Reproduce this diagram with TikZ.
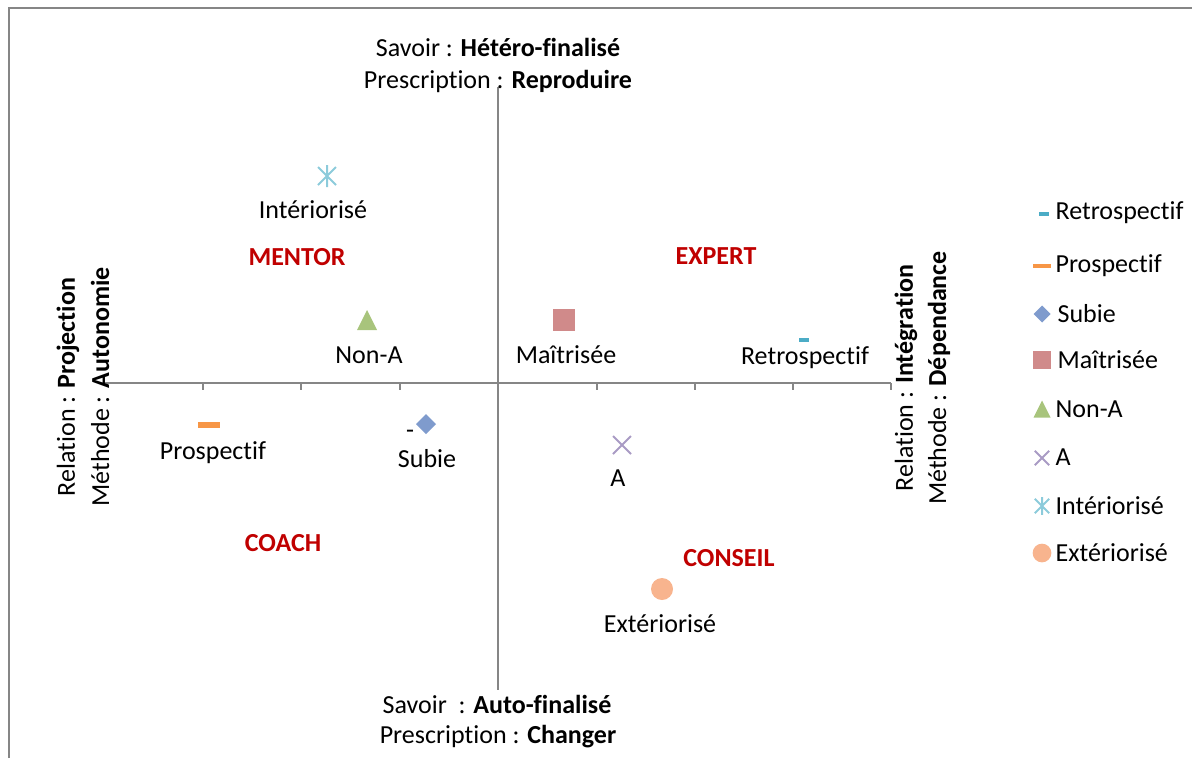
\documentclass[tikz,border=0pt]{standalone}
\usepackage{fontspec}
\setmainfont[Ligatures=NoCommon]{Carlito}
\definecolor{axisgray}{HTML}{868686}
\definecolor{cRetro}{HTML}{4BACC6}
\definecolor{cPros}{HTML}{F79646}
\definecolor{cSubie}{HTML}{7F9BCD}
\definecolor{cMait}{HTML}{D08A8A}
\definecolor{cNonA}{HTML}{A8C47C}
\definecolor{cA}{HTML}{A99BC4}
\definecolor{cInt}{HTML}{8CCBDB}
\definecolor{cExt}{HTML}{F8B48E}
\definecolor{quadred}{HTML}{C00000}
\tikzset{
  lbl/.style={font=\fontsize{19.5}{23}\selectfont, text=black, inner sep=1pt},
  quad/.style={font=\fontsize{19.5}{23}\selectfont\bfseries, text=quadred, inner sep=1pt},
  axis/.style={draw=axisgray, line width=1.5pt},
  tickmark/.style={draw=axisgray, line width=1.5pt},
  frameline/.style={draw=axisgray, line width=2.2pt},
  pics/retro/.style={code={\fill[cRetro] (-5,-2) rectangle (5,2);}},
  pics/pros/.style={code={\fill[cPros] (-11,-3) rectangle (11,3);}},
  pics/subie/.style={code={\fill[cSubie] (-10,0) -- (0,-10) -- (10,0) -- (0,10) -- cycle;}},
  pics/mait/.style={code={\fill[cMait] (-11,-11) rectangle (11,11);}},
  pics/nona/.style={code={\fill[cNonA] (-10,10) -- (0,-10) -- (10,10) -- cycle;}},
  pics/across/.style={code={\draw[cA, line width=1.5pt] (-9,-9) -- (9,9) (-9,9) -- (9,-9);}},
  pics/aster/.style={code={\draw[cInt, line width=1.5pt] (-9,-9) -- (9,9) (-9,9) -- (9,-9) (0,-11) -- (0,11);}},
  pics/exter/.style={code={\fill[cExt] (0,0) circle (11);}},
}
\begin{document}
\begin{tikzpicture}[x=0.75pt,y=-0.75pt]
\useasboundingbox (0,0) rectangle (1192,758);
% frame
\coordinate (fbl) at (9,758);
\coordinate (ftl) at (9,8);
\coordinate (ftr) at (1192,8);
\draw[frameline] (fbl) -- (ftl) -- (ftr);
% axes
\coordinate (xl) at (105,383);
\coordinate (xr) at (891,383);
\coordinate (yt) at (498,87);
\coordinate (yb) at (498,690);
\draw[axis] (xl) -- (xr);
\draw[axis] (yt) -- (yb);
\foreach \i in {203,301,400,597,695,793,891} {
  \coordinate (t\i) at (\i,383);
  \draw[tickmark] (t\i) -- ++(0,7);
}
% axis titles
\node[lbl] (top1) at (498,47) {Savoir : \textbf{Hétéro-finalisé}};
\node[lbl] (top2) at (498,81) {Prescription : \textbf{Reproduire}};
\node[lbl] (bot1) at (497,704) {Savoir\ \ : \textbf{Auto-finalisé}};
\node[lbl] (bot2) at (498,737) {Prescription : \textbf{Changer}};
\node[lbl, rotate=90] (left1) at (68,387) {Relation : \textbf{Projection}};
\node[lbl, rotate=90] (left2) at (100,387) {Méthode : \textbf{Autonomie}};
\node[lbl, rotate=90] (right1) at (906,378) {Relation : \textbf{Intégration}};
\node[lbl, rotate=90] (right2) at (939,378) {Méthode : \textbf{Dépendance}};
% quadrant names
\node[quad] (mentor) at (297,257) {MENTOR};
\node[quad] (expert) at (716,256) {EXPERT};
\node[quad] (coach) at (283,543) {COACH};
\node[quad] (conseil) at (729,558) {CONSEIL};
% data points
\pic at (327,176) {aster};
\node[lbl] (lint) at (313,210) {Intériorisé};
\pic at (367,320) {nona};
\node[lbl] (lnona) at (369,355) {Non-A};
\pic at (564,320) {mait};
\node[lbl] (lmait) at (566,355) {Maîtrisée};
\pic at (804,340) {retro};
\node[lbl] (lretro) at (805,358) {Retrospectif};
\pic at (209,425) {pros};
\node[lbl] (lpros) at (213,453) {Prospectif};
\pic at (426,424) {subie};
\node[lbl] (dash) at (410,434) {-};
\node[lbl] (lsubie) at (427,459) {Subie};
\pic at (622,445) {across};
\node[lbl] (la) at (618,478) {A};
\pic at (662,589) {exter};
\node[lbl] (lext) at (660,624) {Extériorisé};
% legend
\pic at (1044,214) {retro};
\node[lbl, anchor=west] (g1) at (1054,213) {Retrospectif};
\pic[scale=0.8] at (1042,266) {pros};
\node[lbl, anchor=west] (g2) at (1054,266) {Prospectif};
\pic[scale=0.85] at (1042,314) {subie};
\node[lbl, anchor=west] (g3) at (1056,314) {Subie};
\pic[scale=0.85] at (1042,360) {mait};
\node[lbl, anchor=west] (g4) at (1056,360) {Maîtrisée};
\pic[scale=0.85] at (1042,409) {nona};
\node[lbl, anchor=west] (g5) at (1054,409) {Non-A};
\pic[scale=0.8] at (1042,458) {across};
\node[lbl, anchor=west] (g6) at (1054,457) {A};
\pic[scale=0.8] at (1042,506) {aster};
\node[lbl, anchor=west] (g7) at (1054,506) {Intériorisé};
\pic[scale=0.85] at (1042,553) {exter};
\node[lbl, anchor=west] (g8) at (1054,553) {Extériorisé};
\end{tikzpicture}
\end{document}
